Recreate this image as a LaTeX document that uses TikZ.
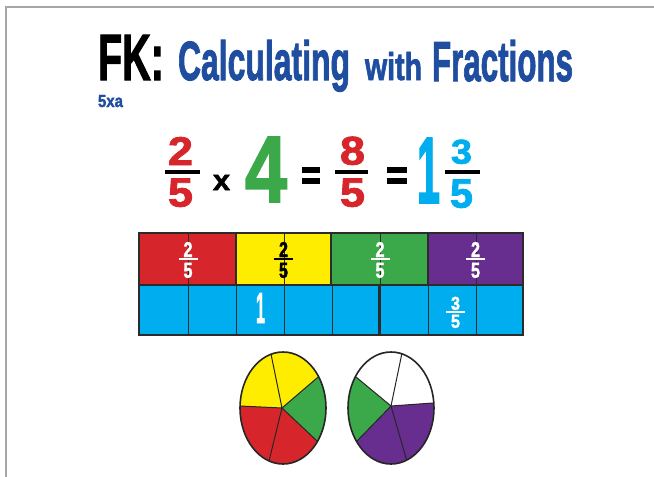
\documentclass[tikz,border=0pt]{standalone}
\usepackage{fontspec}
\setmainfont{Liberation Sans}
\newfontfamily\heavy{Liberation Sans}[FakeBold=2]
\usetikzlibrary{calc}
\definecolor{cred}{HTML}{D7262B}
\definecolor{cyel}{HTML}{FFED00}
\definecolor{cgrn}{HTML}{3BA94A}
\definecolor{cpur}{HTML}{672D8F}
\definecolor{ccya}{HTML}{00AEEF}
\definecolor{cblu}{HTML}{1F4EA1}
\definecolor{cframe}{HTML}{A6A6A6}
\definecolor{cgrid}{HTML}{2B2B2B}
\newcommand\rb[3]{\resizebox{#1pt}{#2pt}{\heavy\bfseries #3}}
\begin{document}
\begin{tikzpicture}[x=1pt,y=-1pt,
  txt/.style={inner sep=0pt, outer sep=0pt, anchor=south west},
  btxt/.style={inner sep=0pt, outer sep=0pt, anchor=base west},
  fbar/.style={fill=black},
  gridline/.style={draw=cgrid, line width=1pt},
  divline/.style={draw=cgrid, line width=1.6pt},
  pieline/.style={draw=black!85, line width=1pt},
  pieedge/.style={draw=black!85, line width=1.6pt}]
\useasboundingbox (0,0) rectangle (654,477);
% page frame
\draw[cframe, line width=1.5pt] (6,477) -- (6,7) -- (654,7);
% title
\node[txt, text=black] (fk) at (98,80) {\rb{66}{45}{FK:}};
\node[btxt, text=cblu] (calc) at (178,80) {\rb{172}{40}{Calculating}};
\node[btxt, text=cblu] (with) at (365,80) {\rb{57}{28}{with}};
\node[btxt, text=cblu] (frac) at (432,81) {\rb{141}{41}{Fractions}};
\node[btxt, text=cblu] (sub) at (98,107) {\rb{25}{12}{5xa}};
% equation
\node[txt, text=cred] (n1) at (168,165) {\rb{25}{28}{2}};
\fill[fbar] (165,170) rectangle (200,174);
\node[txt, text=cred] (d1) at (168,207) {\rb{25}{28}{5}};
\node[txt, text=black] (times) at (213,190) {\rb{17}{15}{x}};
\node[txt, text=cgrn] (four) at (245,202) {\rb{42}{65}{4}};
\fill[fbar] (302,167) rectangle (320,173);
\fill[fbar] (302,178) rectangle (320,184);
\node[txt, text=cred] (n2) at (340,165) {\rb{25}{28}{8}};
\fill[fbar] (335,170) rectangle (368,174);
\node[txt, text=cred] (d2) at (340,207) {\rb{25}{28}{5}};
\fill[fbar] (387,167) rectangle (407,173);
\fill[fbar] (387,178) rectangle (407,184);
\node[txt, text=ccya] (one) at (417,203) {\rb{23}{65}{1}};
\node[txt, text=ccya] (n3) at (451,164) {\rb{21}{24}{3}};
\fill[fbar] (445,170) rectangle (480,174);
\node[txt, text=ccya] (d3) at (450,208) {\rb{23}{28}{5}};
% bar model
\fill[cred] (139,233) rectangle (236,285);
\fill[cyel] (236,233) rectangle (331,285);
\fill[cgrn] (331,233) rectangle (428,285);
\fill[cpur] (428,233) rectangle (523,285);
\fill[ccya] (139,285) rectangle (523,335);
\foreach \x in {188,284,380,476} \draw[gridline] (\x,233) -- (\x,285);
\foreach \x in {188,236,284,332,428,476} \draw[gridline] (\x,285) -- (\x,335);
\draw[cgrid, line width=2.6pt] (379.5,285) -- (379.5,335);
\foreach \x in {236,331,428} \draw[divline] (\x,233) -- (\x,285);
\draw[divline] (139,285) -- (523,285);
\draw[cgrid, line width=2pt] (139,233) rectangle (523,335);
% small fractions in the top row
\foreach \cx/\col/\nm in {188/white/a,283.5/black/b,380/white/c,475.5/white/d}{
  \fill[\col] (\cx-9.5,257.8) rectangle (\cx+9.5,260);
  \node[txt, text=\col] (sn\nm) at (\cx-4.5,257) {\rb{9}{15}{2}};
  \node[txt, text=\col] (sd\nm) at (\cx-4.5,278) {\rb{9}{15}{5}};
}
\node[txt, text=white] (bone) at (256,323) {\rb{9}{30}{1}};
\fill[white] (446,311) rectangle (465,313);
\node[txt, text=white] (bn) at (451,310) {\rb{9}{13}{3}};
\node[txt, text=white] (bd) at (451,328) {\rb{9}{13}{5}};
% left pie
\begin{scope}
  \clip (283,408) ellipse (43 and 56);
  \coordinate (c1) at (282,408);
  \coordinate (t1) at (271,354);
  \coordinate (ur1) at (317,378);
  \coordinate (lr1) at (316,440);
  \coordinate (b1) at (269,461);
  \coordinate (l1) at (240,406);
  \fill[cyel] (c1) -- ($(c1)!3!(l1)$) -- ($(c1)!3!(t1)$) -- ($(c1)!3!(ur1)$) -- cycle;
  \fill[cgrn] (c1) -- ($(c1)!3!(ur1)$) -- ($(c1)!3!(lr1)$) -- cycle;
  \fill[cred] (c1) -- ($(c1)!3!(lr1)$) -- ($(c1)!3!(b1)$) -- ($(c1)!3!(l1)$) -- cycle;
  \foreach \p in {t1,ur1,lr1,b1,l1} \draw[pieline] (c1) -- ($(c1)!1.2!(\p)$);
\end{scope}
\draw[pieedge] (283,408) ellipse (43 and 56);
% right pie
\begin{scope}
  \clip (391,408) ellipse (43 and 56);
  \coordinate (c2) at (391,406);
  \coordinate (t2) at (402,353);
  \coordinate (r2) at (433,403);
  \coordinate (br2) at (406,458);
  \coordinate (bl2) at (358,440);
  \coordinate (ul2) at (356,377);
  \fill[white] (c2) -- ($(c2)!3!(ul2)$) -- ($(c2)!3!(t2)$) -- ($(c2)!3!(r2)$) -- cycle;
  \fill[cpur] (c2) -- ($(c2)!3!(r2)$) -- ($(c2)!3!(br2)$) -- ($(c2)!3!(bl2)$) -- cycle;
  \fill[cgrn] (c2) -- ($(c2)!3!(bl2)$) -- ($(c2)!3!(ul2)$) -- cycle;
  \foreach \p in {t2,r2,br2,bl2,ul2} \draw[pieline] (c2) -- ($(c2)!1.2!(\p)$);
\end{scope}
\draw[pieedge] (391,408) ellipse (43 and 56);
\end{tikzpicture}
\end{document}
